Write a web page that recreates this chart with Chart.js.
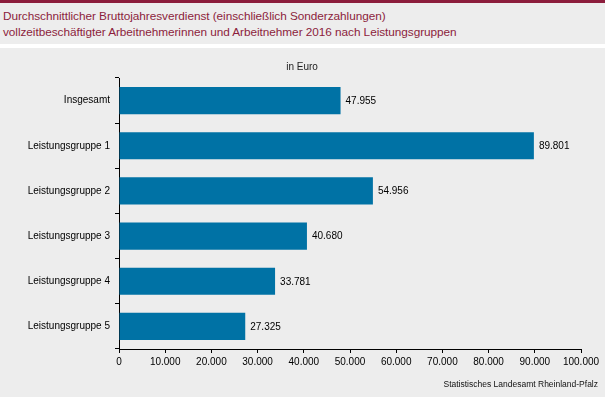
<!DOCTYPE html>
<html>
    <head>
        <meta charset="UTF-8">
        <title>Bruttojahresverdienst 2016 nach Leistungsgruppen</title>
        <style>
            body { margin: 0; background: #ededed; font-family: "Liberation Sans", Arial, sans-serif; }
            #head {
                height: 41px;
                border-top: 3px solid #8c1d3c;
                border-bottom: 4px solid #ffffff;
                padding: 0 0 0 3px;
                color: #8c1d3c;
                font-size: 11.8px;
                line-height: 16px;
                letter-spacing: -0.05px;
                box-sizing: content-box;
            }
            #head div:first-child { padding-top: 5px; }
            #box { width: 605px; height: 349px; position: relative; }
        </style>
    </head>
    <body>
        <div id="head">
            <div>Durchschnittlicher Bruttojahresverdienst (einschließlich Sonderzahlungen)</div>
            <div>vollzeitbeschäftigter Arbeitnehmerinnen und Arbeitnehmer 2016 nach Leistungsgruppen</div>
        </div>
        <div id="box">
            <canvas id="myChart"></canvas>
        </div>

        <script src="https://cdn.jsdelivr.net/npm/chart.js@4/dist/chart.umd.min.js"></script>
        <script>
            var categories = ["Insgesamt", "Leistungsgruppe 1", "Leistungsgruppe 2",
                "Leistungsgruppe 3", "Leistungsgruppe 4", "Leistungsgruppe 5"];
            var verdienst = [47955, 89801, 54956, 40680, 33781, 27325];
            var xTicks = [0, 10000, 20000, 30000, 40000, 50000, 60000, 70000, 80000, 90000, 100000];

            var fmt = function (v) {
                return Number(v).toLocaleString("de-DE");
            };

            // value labels next to the bars + unit and source text
            var extras = {
                id: "extras",
                afterDatasetsDraw: function (chart) {
                    var ctx = chart.ctx;
                    ctx.save();
                    ctx.fillStyle = "#000";
                    ctx.font = "10px 'Liberation Sans', Arial, sans-serif";
                    ctx.textBaseline = "middle";
                    ctx.textAlign = "left";
                    chart.getDatasetMeta(0).data.forEach(function (bar, i) {
                        ctx.fillText(fmt(verdienst[i]), bar.x + 5, bar.y + 0.5);
                    });
                    ctx.textAlign = "center";
                    ctx.fillStyle = "#222";
                    ctx.fillText("in Euro", 302, 19);
                    ctx.textAlign = "right";
                    ctx.fillStyle = "#111";
                    ctx.font = "8.5px 'Liberation Sans', Arial, sans-serif";
                    ctx.fillText("Statistisches Landesamt Rheinland-Pfalz", 598, 337);
                    ctx.restore();
                }
            };

            var ctx = document.getElementById("myChart");
            var myChart = new Chart(ctx, {
                type: "bar",
                data: {
                    labels: categories,
                    datasets: [{
                        data: verdienst,
                        backgroundColor: "#0072a5",
                        barPercentage: 0.6,
                        categoryPercentage: 1
                    }]
                },
                options: {
                    indexAxis: "y",
                    responsive: true,
                    maintainAspectRatio: false,
                    animation: false,
                    layout: { padding: { top: 30, right: 24, left: 0, bottom: 0 } },
                    plugins: {
                        legend: { display: false },
                        tooltip: { enabled: false }
                    },
                    scales: {
                        x: {
                            min: 0,
                            max: 100000,
                            afterBuildTicks: function (s) {
                                s.ticks = xTicks.map(function (v) { return { value: v }; });
                            },
                            afterFit: function (s) { s.height = 48; },
                            border: { color: "#000", width: 1 },
                            grid: { drawOnChartArea: false, tickLength: 4, color: "#000" },
                            ticks: {
                                padding: 3,
                                maxRotation: 0,
                                color: "#000",
                                font: { family: "'Liberation Sans', Arial, sans-serif", size: 10 },
                                callback: function (v) { return fmt(v); }
                            }
                        },
                        y: {
                            afterFit: function (s) { s.width = 119; },
                            border: { color: "#000", width: 1 },
                            grid: { drawOnChartArea: false, tickLength: 4, color: "#000", offset: true },
                            ticks: {
                                padding: 5,
                                color: "#000",
                                font: { family: "'Liberation Sans', Arial, sans-serif", size: 10 }
                            }
                        }
                    }
                },
                plugins: [extras]
            });
        </script>
    </body>
</html>
